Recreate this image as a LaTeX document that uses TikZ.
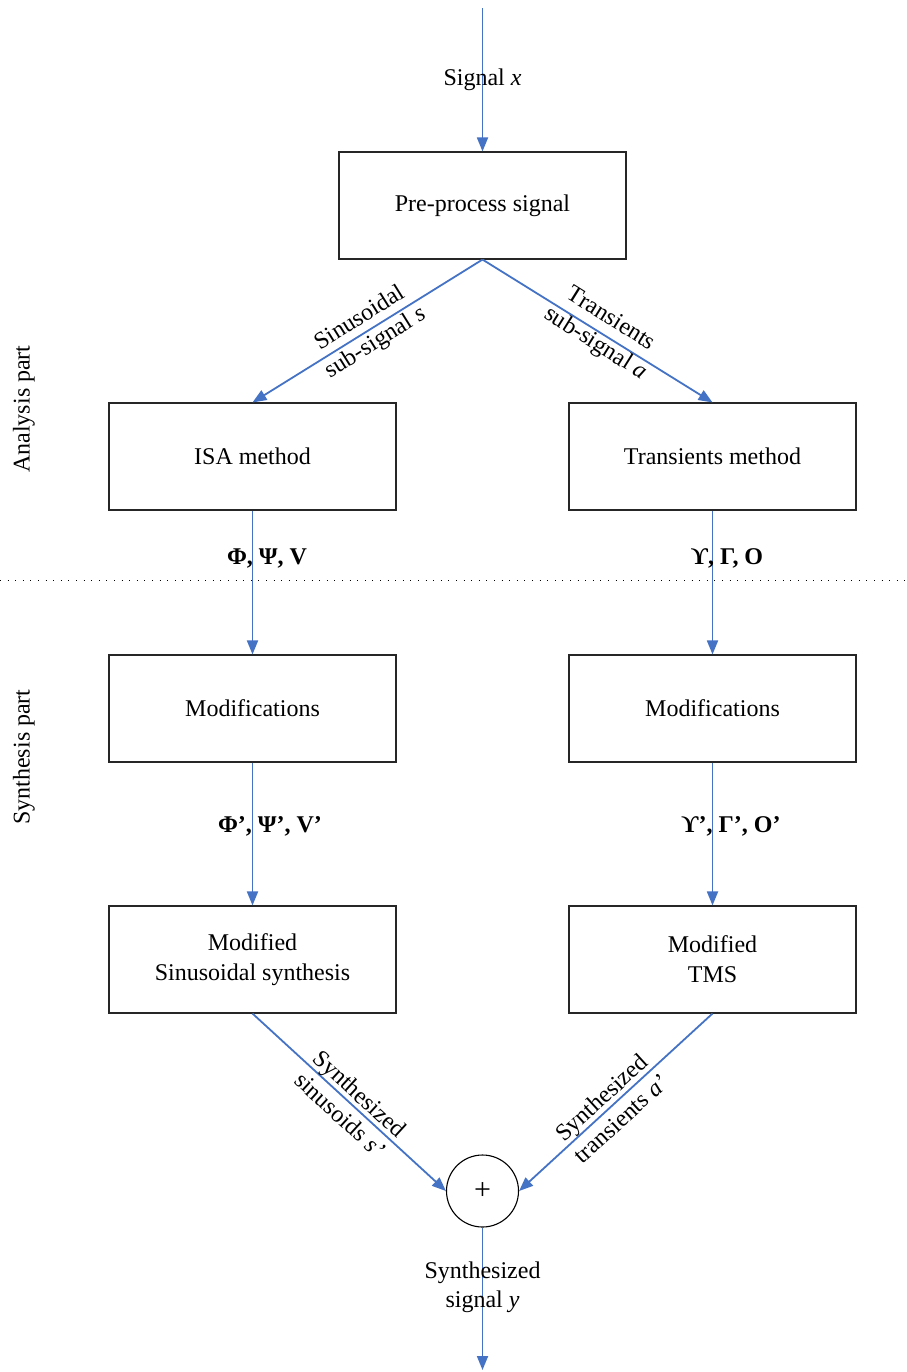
\documentclass[tikz,border=0pt]{standalone}
\usepackage{fontspec}
\setmainfont{Liberation Serif}
\usetikzlibrary{arrows.meta}
\definecolor{arrowblue}{HTML}{4472C4}
\begin{document}
\begin{tikzpicture}[x=1pt,y=-1pt,
  box/.style={draw=black!85, line width=1.1pt, minimum width=287pt, minimum height=107pt, inner sep=0pt, align=center, font=\fontsize{24}{30}\selectfont},
  flow/.style={draw=arrowblue, line width=1.8pt, -{Triangle[length=14pt,width=11pt]}},
  lbl/.style={align=center, font=\fontsize{24}{29}\selectfont, inner sep=0pt},
  glbl/.style={font=\fontsize{24}{30}\selectfont\bfseries, inner sep=0pt},
  sumnode/.style={draw=black, line width=1.1pt, circle, minimum size=72pt, inner sep=0pt, font=\fontsize{30}{30}\selectfont}
]
\useasboundingbox (0,0) rectangle (906,1372);

\node[box] (pre) at (482.5,205.5) {\raisebox{-3pt}{Pre-process signal}};
\node[box] (isa) at (252.5,456.5) {\raisebox{-2pt}{ISA method}};
\node[box] (trm) at (712.5,456.5) {\raisebox{-2pt}{Transients method}};
\node[box] (modL) at (252.5,708.5) {\raisebox{-2pt}{Modifications}};
\node[box] (modR) at (712.5,708.5) {\raisebox{-2pt}{Modifications}};
\node[box] (synL) at (252.5,959.5) {Modified\\Sinusoidal synthesis};
\node[box] (synR) at (712.5,959.5) {Modified\\TMS};
\node[sumnode] (sum) at (482.5,1191) {+};

\coordinate (in) at (482.5,8);
\coordinate (out) at (482.5,1370);

\draw[flow] (in) -- (pre.north);
\draw[flow] (pre.south) -- (isa.north);
\draw[flow] (pre.south) -- (trm.north);
\draw[flow] (isa.south) -- (modL.north);
\draw[flow] (trm.south) -- (modR.north);
\draw[flow] (modL.south) -- (synL.north);
\draw[flow] (modR.south) -- (synR.north);
\draw[flow] (synL.south) -- (sum.west);
\draw[flow] (synR.south) -- (sum.east);
\draw[flow] (sum.south) -- (out);

% dotted separator
\coordinate (dl) at (0,580);
\coordinate (dr) at (906,580);
\draw[line width=1pt, dash pattern=on 1pt off 6.6pt] (dl) -- (dr);

% labels
\node[lbl] (lx) at (482.5,80) {Signal \textit{x}};
\node[lbl, rotate=32] (ls) at (368,331) {Sinusoidal\\sub-signal \textit{s}};
\node[lbl, rotate=-32] (la) at (603,332) {Transients\\sub-signal \textit{a}};
\node[lbl, rotate=-42.5] (lss) at (350,1104) {Synthesized\\sinusoids \textit{s’}};
\node[lbl, rotate=42.5] (laa) at (611,1108) {Synthesized\\transients \textit{a’}};
\node[lbl] (ly) at (482.5,1287) {Synthesized\\signal \textit{y}};

\node[glbl] (g1) at (267,558) {Φ, Ψ, V};
\node[glbl] (g2) at (727,558) {ϒ, Γ, O};
\node[glbl] (g3) at (270,826) {Φ’, Ψ’, V’};
\node[glbl] (g4) at (731,826) {ϒ’, Γ’, O’};

\node[lbl, rotate=90] (an) at (24,409) {Analysis part};
\node[lbl, rotate=90] (sy) at (24,757) {Synthesis part};
\end{tikzpicture}
\end{document}
